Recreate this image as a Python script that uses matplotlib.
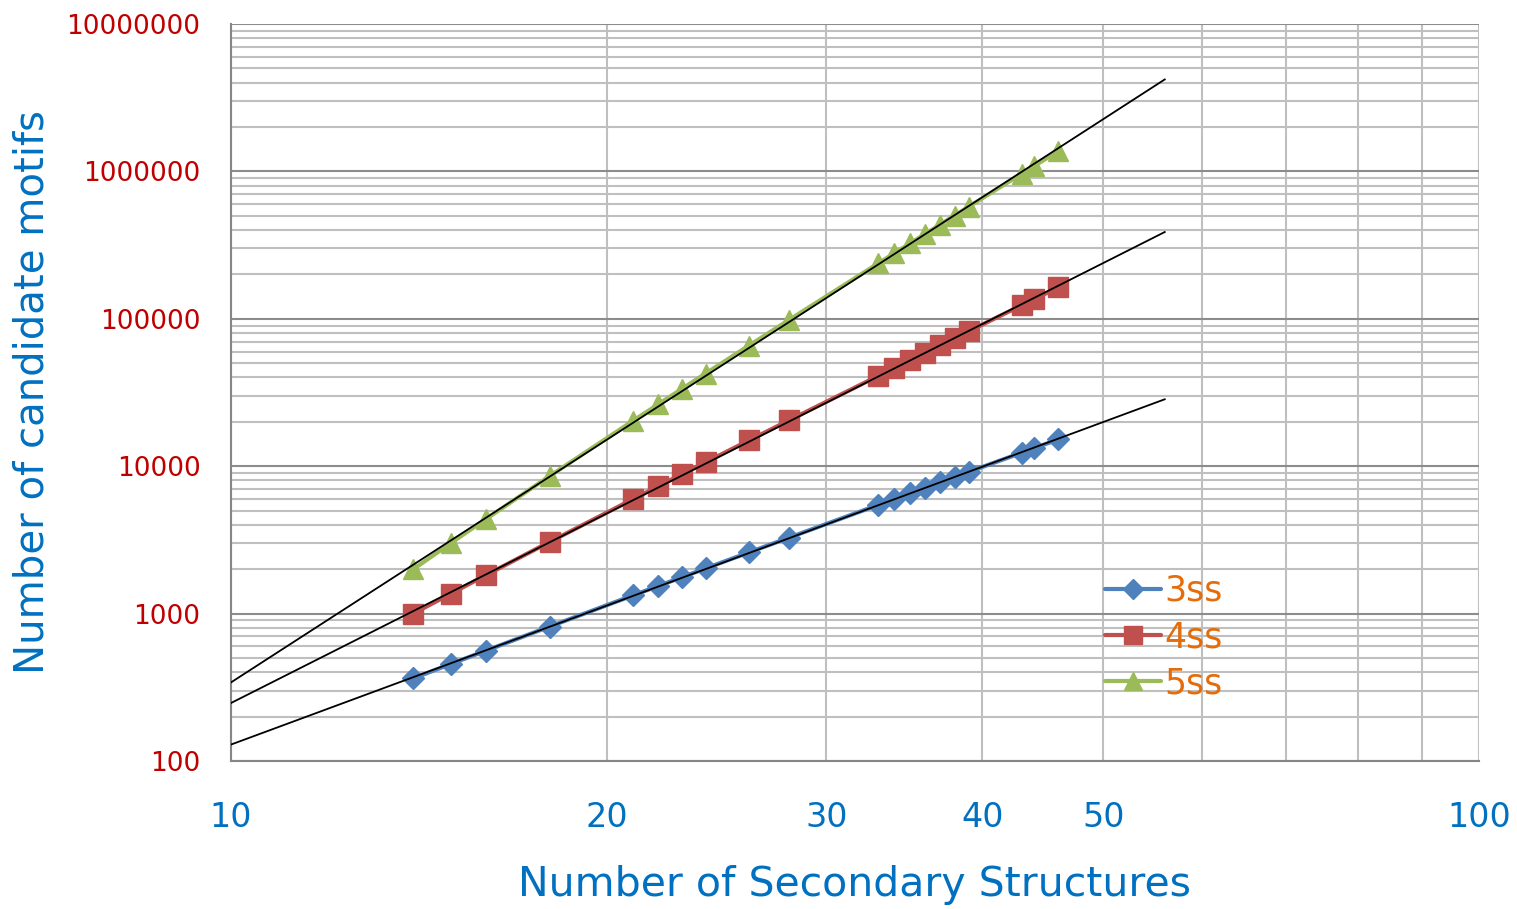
import numpy as np
import matplotlib
matplotlib.use("Agg")
import matplotlib.pyplot as plt
from matplotlib.ticker import LogLocator, NullFormatter, FixedLocator, FixedFormatter

# ---- data ----
n_ss = [14, 15, 16, 18, 21, 22, 23, 24, 26, 28, 33, 34, 35, 36, 37, 38, 39, 43, 44, 46]
motifs_3ss = [364, 455, 560, 816, 1330, 1540, 1771, 2024, 2600, 3276,
              5456, 5984, 6545, 7140, 7770, 8436, 9139, 12341, 13244, 15180]
motifs_4ss = [1001, 1365, 1820, 3060, 5985, 7315, 8855, 10626, 14950, 20475,
              40920, 46376, 52360, 58905, 66045, 73815, 82251, 123410, 135751, 163185]
motifs_5ss = [2002, 3003, 4368, 8568, 20349, 26334, 33649, 42504, 65780, 98280,
              237336, 278256, 324632, 376992, 435897, 501942, 575757, 962598, 1086008, 1370754]
series_labels = ["3ss", "4ss", "5ss"]
trend_range = (10, 56)   # power trendline extent (backward/forward forecast)

x_ticks = [10, 20, 30, 40, 50, 100]
x_ticklabels = ["10", "20", "30", "40", "50", "100"]
y_ticks = [100, 1000, 10000, 100000, 1000000, 10000000]
y_ticklabels = ["100", "1000", "10000", "100000", "1000000", "10000000"]

colors = ["#4F81BD", "#C0504D", "#9BBB59"]
markers = ["D", "s", "^"]
msizes = [11, 14, 14]

fig = plt.figure(figsize=(15.17, 9.09), dpi=100)
ax = fig.add_axes([231/1517, 1-761/909, (1479-231)/1517, (761-24)/909])
ax.set_xscale("log")
ax.set_yscale("log")
ax.set_xlim(10, 100)
ax.set_ylim(100, 1e7)

# grid
ax.xaxis.set_minor_locator(LogLocator(base=10, subs=np.arange(2, 10)))
ax.yaxis.set_minor_locator(LogLocator(base=10, subs=np.arange(2, 10)))
ax.xaxis.set_minor_formatter(NullFormatter())
ax.yaxis.set_minor_formatter(NullFormatter())
ax.grid(True, which="minor", axis="both", color="#BFBFBF", lw=1.5, zorder=0)
ax.grid(True, which="major", axis="y", color="#8C8C8C", lw=1.5, zorder=0)
ax.grid(True, which="major", axis="x", color="#BFBFBF", lw=1.5, zorder=0)
ax.set_axisbelow(True)

for s in ["top", "right"]:
    ax.spines[s].set_visible(False)
for s in ["left", "bottom"]:
    ax.spines[s].set_color("#868686")
    ax.spines[s].set_linewidth(1.5)

ax.tick_params(which="both", length=0)
ax.xaxis.set_major_locator(FixedLocator(x_ticks))
ax.xaxis.set_major_formatter(FixedFormatter(x_ticklabels))
ax.yaxis.set_major_locator(FixedLocator(y_ticks))
ax.yaxis.set_major_formatter(FixedFormatter(y_ticklabels))
ax.tick_params(axis="x", which="major", labelsize=24, labelcolor="#0070C0", pad=29)
ax.tick_params(axis="y", which="major", labelsize=19, labelcolor="#C00000", pad=22)

series = [motifs_3ss, motifs_4ss, motifs_5ss]
for vals, c, m, ms, lab in zip(series, colors, markers, msizes, series_labels):
    ax.plot(n_ss, vals, color=c, lw=3, marker=m, markersize=ms,
            markeredgecolor=c, label=lab, zorder=3, solid_capstyle="round")

# power trendlines fitted to the data
xt = np.geomspace(trend_range[0], trend_range[1], 200)
for vals in series:
    b, a = np.polyfit(np.log10(n_ss), np.log10(vals), 1)
    ax.plot(xt, 10**(a + b*np.log10(xt)), color="black", lw=1.3, zorder=4)

ax.set_xlabel("Number of Secondary Structures", fontsize=29.5, color="#0070C0", labelpad=22)
ax.set_ylabel("Number of candidate motifs", fontsize=29, color="#0070C0", labelpad=10)

leg = ax.legend(loc="center left", bbox_to_anchor=((1105-231)/1248, 1-(637-24)/737),
                frameon=False, fontsize=25, handlelength=1.6, handletextpad=0.1,
                borderpad=0, borderaxespad=0, labelspacing=0.35, markerscale=0.9)
for t in leg.get_texts():
    t.set_color("#E46C0A")

fig.savefig("out.png", dpi=100)
